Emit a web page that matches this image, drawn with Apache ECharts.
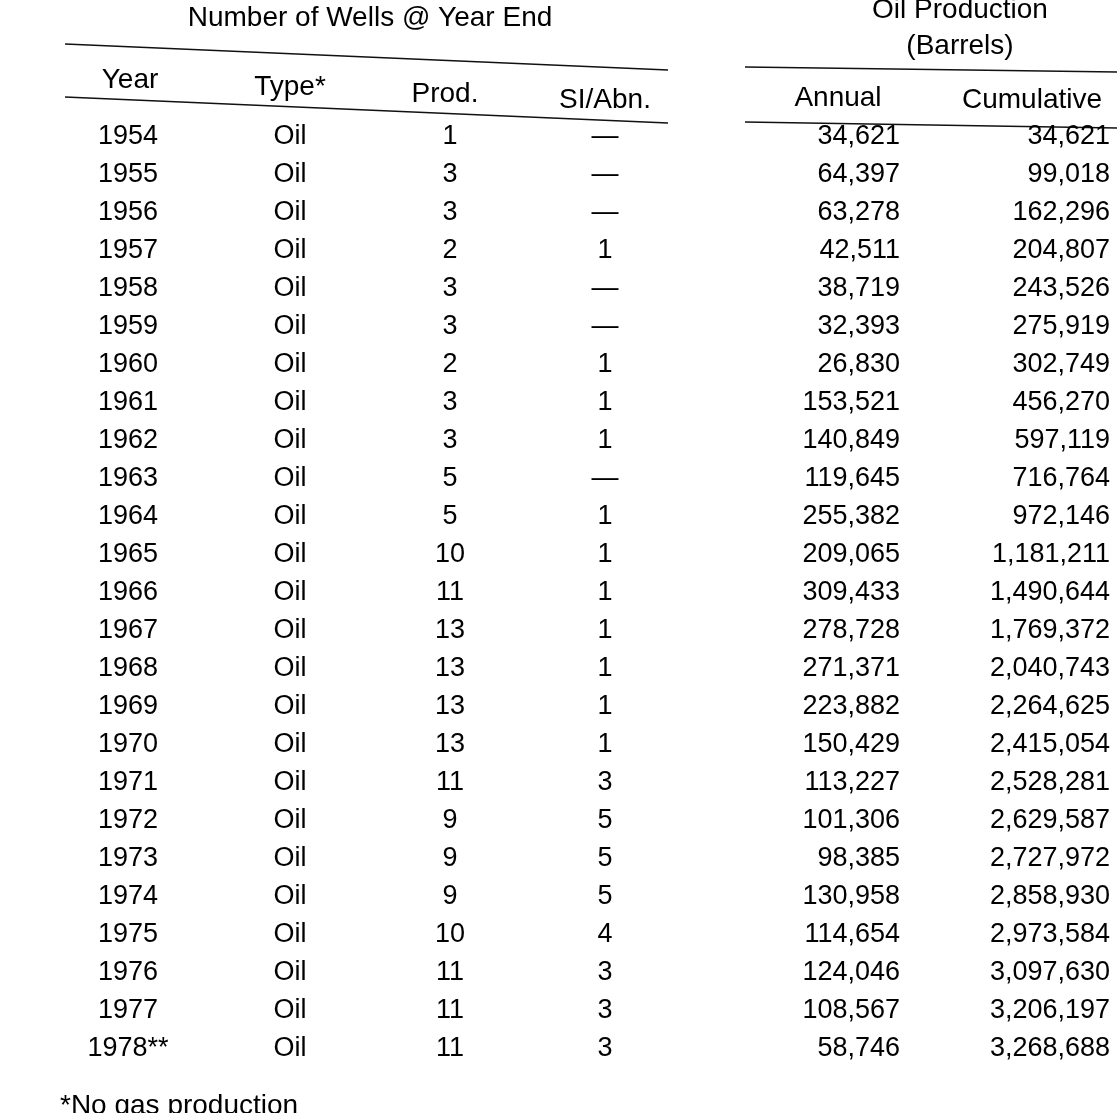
<!DOCTYPE html>
<html>
<head>
  <meta charset="utf-8">
  <script src="https://cdn.jsdelivr.net/npm/echarts@6/dist/echarts.min.js"></script>
  <style>
    html, body { margin: 0; background: #fff; }
    #chart { width: 1117px; height: 1113px; }
  </style>
</head>
<body>
  <div id="chart"></div>
  <script>
    // table values
    const years = ['1954', '1955', '1956', '1957', '1958', '1959', '1960', '1961', '1962', '1963', '1964', '1965', '1966',
      '1967', '1968', '1969', '1970', '1971', '1972', '1973', '1974', '1975', '1976', '1977', '1978**']
    const types = years.map(() => 'Oil')
    const prod = ['1', '3', '3', '2', '3', '3', '2', '3', '3', '5', '5', '10', '11', '13', '13', '13', '13', '11', '9', '9', '9', '10', '11', '11', '11']
    const siAbn = ['—', '—', '—', '1', '—', '—', '1', '1', '1', '—', '1', '1', '1', '1', '1', '1', '1', '3', '5', '5', '5', '4', '3', '3', '3']
    const annual = ['34,621', '64,397', '63,278', '42,511', '38,719', '32,393', '26,830', '153,521', '140,849', '119,645',
      '255,382', '209,065', '309,433', '278,728', '271,371', '223,882', '150,429', '113,227', '101,306', '98,385',
      '130,958', '114,654', '124,046', '108,567', '58,746']
    const cumulative = ['34,621', '99,018', '162,296', '204,807', '243,526', '275,919', '302,749', '456,270', '597,119',
      '716,764', '972,146', '1,181,211', '1,490,644', '1,769,372', '2,040,743', '2,264,625', '2,415,054', '2,528,281',
      '2,629,587', '2,727,972', '2,858,930', '2,973,584', '3,097,630', '3,206,197', '3,268,688']

    // column layout: x position on the hidden axis and text alignment
    const columns = [
      { values: years, x: 128, align: 'center' },
      { values: types, x: 290, align: 'center' },
      { values: prod, x: 450, align: 'center' },
      { values: siAbn, x: 605, align: 'center' },
      { values: annual, x: 900, align: 'right' },
      { values: cumulative, x: 1110, align: 'right' }
    ]

    const font = '"Liberation Sans", Arial, sans-serif'
    const textStyle = { fontFamily: font, fontSize: 28, fill: '#000' }

    const series = columns.map(col => ({
      type: 'scatter',
      symbolSize: 0,
      silent: true,
      clip: false,
      data: col.values.map((v, i) => [col.x, years[i], v]),
      label: {
        show: true,
        position: 'inside',
        formatter: p => p.data[2],
        fontFamily: font,
        fontSize: 27,
        color: '#000',
        opacity: 1,
        align: col.align
      }
    }))

    const line = (x1, y1, x2, y2) => ({
      type: 'line', shape: { x1, y1, x2, y2 }, style: { stroke: '#111', lineWidth: 1.5 }
    })
    const text = (x, y, t, align) => ({
      type: 'text', x, y, style: Object.assign({ text: t, align: align || 'center', verticalAlign: 'middle' }, textStyle)
    })

    const option = {
      backgroundColor: '#fff',
      animation: false,
      grid: { left: 0, right: 0, top: 118, bottom: 45 },
      xAxis: { type: 'value', min: 0, max: 1117, show: false },
      yAxis: { type: 'category', data: years, inverse: true, show: false },
      series,
      graphic: [
        text(370, 18, 'Number of Wells @ Year End'),
        text(960, 10, 'Oil Production'),
        text(960, 46, '(Barrels)'),
        line(65, 44, 668, 70),
        line(745, 67, 1117, 72),
        text(130, 80, 'Year'),
        text(290, 87, 'Type*'),
        text(445, 94, 'Prod.'),
        text(605, 100, 'SI/Abn.'),
        text(838, 98, 'Annual'),
        text(962, 100, 'Cumulative', 'left'),
        line(65, 97, 668, 123),
        line(745, 122, 1117, 128),
        text(60, 1106, '*No gas production', 'left')
      ]
    }

    const chart = echarts.init(document.getElementById('chart'))
    chart.setOption(option)
  </script>
</body>
</html>
